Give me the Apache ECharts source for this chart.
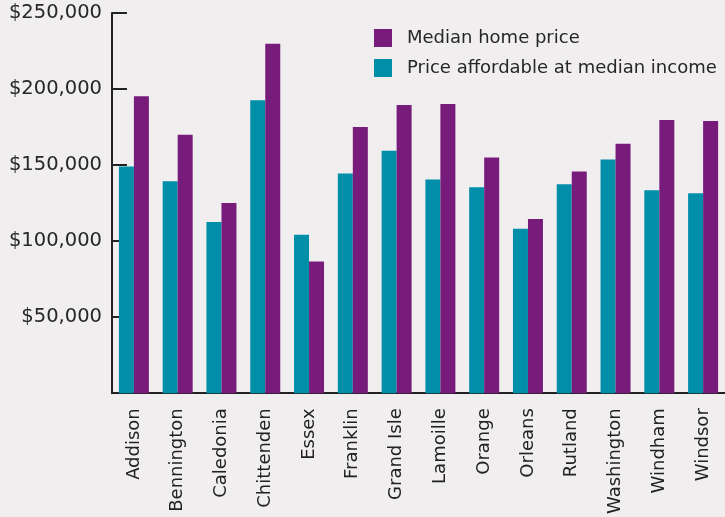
<!DOCTYPE html>
<html>
<head>
<meta charset="utf-8">
<script src="https://cdn.jsdelivr.net/npm/echarts@6/dist/echarts.min.js"></script>
<style>
html,body{margin:0;padding:0;background:#f1eef0;}
#c{width:725px;height:517px;}
</style>
</head>
<body>
<div id="c"></div>
<script>
const categories = ['Addison','Bennington','Caledonia','Chittenden','Essex','Franklin','Grand Isle','Lamoille','Orange','Orleans','Rutland','Washington','Windham','Windsor'];
const affordable = [149000,139300,112600,192700,104200,144500,159500,140600,135400,108100,137400,153600,133500,131500];
const medianPrice = [195300,169900,125000,229800,86600,175100,189500,190100,155000,114600,145800,164000,179700,179000];
const yTicks = [0,50000,100000,150000,200000,250000];

const chart = echarts.init(document.getElementById('c'), null, {renderer:'canvas'});
const font = 'DejaVu Sans';
chart.setOption({
  backgroundColor:'#f1eef0',
  animation:false,
  grid:{left:112, top:13, bottom:120, right:-5, containLabel:false},
  legend:{
    orient:'vertical', left:374, top:29, padding:0, itemWidth:18, itemHeight:18, itemGap:12,
    icon:'rect',
    data:['Median home price','Price affordable at median income'],
    textStyle:{fontFamily:font, fontSize:18, color:'#262626', padding:[0,0,0,10]}
  },
  xAxis:{
    type:'category', data:categories,
    axisLine:{lineStyle:{color:'#222', width:2}},
    axisTick:{show:false},
    axisLabel:{rotate:90, margin:15, fontFamily:font, fontSize:18, color:'#222', interval:0}
  },
  yAxis:{
    type:'value', min:yTicks[0], max:yTicks[yTicks.length-1], interval:50000,
    splitLine:{show:false},
    axisLine:{show:true, lineStyle:{color:'#222', width:2}},
    axisTick:{show:true, inside:true, length:15, lineStyle:{color:'#222', width:2}},
    axisLabel:{margin:10, fontFamily:font, fontSize:19.5, color:'#262626',
      formatter:v => v===0 ? '' : '$' + v.toLocaleString('en-US')}
  },
  series:[
    {name:'Price affordable at median income', type:'bar', data:affordable, barWidth:15, barGap:'0%', itemStyle:{color:'#008ea8'}},
    {name:'Median home price', type:'bar', data:medianPrice, barWidth:15, barGap:'0%', itemStyle:{color:'#781c7c'}}
  ]
});
</script>
</body>
</html>
